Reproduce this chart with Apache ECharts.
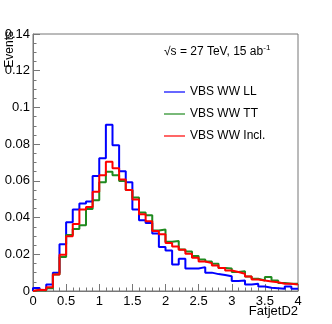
<!DOCTYPE html>
<html>
<head>
<meta charset="utf-8">
<script src="https://cdn.jsdelivr.net/npm/echarts@6/dist/echarts.min.js"></script>
<style>
  html, body { margin: 0; padding: 0; background: #fff; }
  #chart { width: 332px; height: 324px; }
</style>
</head>
<body>
<div id="chart"></div>
<script>
const binWidth = 0.1
const xMin = 0
const xMax = 4

const seriesNames = ['VBS WW LL', 'VBS WW TT', 'VBS WW Incl.']
const seriesColors = ['#0000ff', '#1f8a1f', '#ff0000']

const llValues = [
  0.0017, 0.0006, 0.0035, 0.0099, 0.0254, 0.0374, 0.0444, 0.0477, 0.0488, 0.0626,
  0.0723, 0.0905, 0.0794, 0.0653, 0.0592, 0.0444, 0.0385, 0.0371, 0.0313, 0.0240,
  0.0221, 0.0145, 0.0176, 0.0123, 0.0123, 0.0130, 0.0100, 0.0092, 0.0087, 0.0080,
  0.0054, 0.0057, 0.0035, 0.0039, 0.0025, 0.0018, 0.0015, 0.0012, 0.0025, 0.0012,
]
const ttValues = [
  0.0005, 0.0003, 0.0015, 0.0090, 0.0185, 0.0305, 0.0338, 0.0358, 0.0447, 0.0495,
  0.0593, 0.0650, 0.0630, 0.0599, 0.0550, 0.0510, 0.0427, 0.0413, 0.0330, 0.0335,
  0.0268, 0.0272, 0.0226, 0.0215, 0.0190, 0.0172, 0.0161, 0.0149, 0.0125, 0.0122,
  0.0103, 0.0108, 0.0079, 0.0067, 0.0057, 0.0076, 0.0057, 0.0043, 0.0039, 0.0039,
]
const inclValues = [
  0.0007, 0.0005, 0.0020, 0.0090, 0.0198, 0.0298, 0.0365, 0.0444, 0.0458, 0.0540,
  0.0631, 0.0704, 0.0668, 0.0608, 0.0550, 0.0499, 0.0418, 0.0380, 0.0327, 0.0309,
  0.0261, 0.0243, 0.0225, 0.0203, 0.0181, 0.0161, 0.0152, 0.0139, 0.0125, 0.0112,
  0.0103, 0.0094, 0.0079, 0.0063, 0.0057, 0.0052, 0.0048, 0.0040, 0.0039, 0.0036,
]

const FONT = 'Liberation Sans, Arial, sans-serif'

// bin contents -> step outline points at the bin edges
function toSteps(values) {
  const pts = [[xMin, 0]]
  values.forEach((v, i) => pts.push([+(xMin + i * binWidth).toFixed(2), v]))
  pts.push([xMax, values[values.length - 1]])
  return pts
}

function histSeries(name, values, color) {
  return {
    name,
    type: 'line',
    step: 'end',
    data: toSteps(values),
    showSymbol: false,
    symbol: 'none',
    silent: true,
    animation: false,
    lineStyle: { color, width: 2 },
    itemStyle: { color },
  }
}

const axisColor = '#777'

const chart = echarts.init(document.getElementById('chart'))
chart.setOption({
  backgroundColor: '#fff',
  animation: false,
  grid: {
    left: 33, right: 34, top: 34, bottom: 33,
    show: true, borderColor: axisColor, borderWidth: 1, backgroundColor: 'transparent',
  },
  xAxis: {
    type: 'value',
    min: xMin, max: xMax, interval: 0.5,
    axisLine: { lineStyle: { color: axisColor, width: 1 } },
    axisTick: { inside: true, length: 7, lineStyle: { color: axisColor } },
    minorTick: { show: true, splitNumber: 5, length: 3.5, lineStyle: { color: axisColor } },
    splitLine: { show: false },
    axisLabel: { color: '#000', fontFamily: FONT, fontSize: 13, margin: 4 },
  },
  yAxis: {
    type: 'value',
    min: 0, max: 0.14, interval: 0.02,
    axisLine: { show: true, lineStyle: { color: axisColor, width: 1 } },
    axisTick: { show: true, inside: true, length: 7, lineStyle: { color: axisColor } },
    minorTick: { show: true, splitNumber: 4, length: 3.5, lineStyle: { color: axisColor } },
    splitLine: { show: false },
    axisLabel: { color: '#000', fontFamily: FONT, fontSize: 13, margin: 3 },
  },
  legend: {
    orient: 'vertical',
    left: 164, top: 85, padding: 0,
    itemWidth: 21, itemHeight: 1.2, itemGap: 8,
    icon: 'rect',
    selectedMode: false,
    data: seriesNames,
    textStyle: { color: '#000', fontFamily: FONT, fontSize: 12, lineHeight: 14, padding: [0, 0, 0, 0] },
  },
  graphic: [
    {
      type: 'text', x: 10, y: 31, rotation: Math.PI / 2,
      style: { text: 'Events', font: '12px ' + FONT, fill: '#000', align: 'right', verticalAlign: 'middle' },
    },
    {
      type: 'text', x: 298, y: 311,
      style: { text: 'FatjetD2', font: '13px ' + FONT, fill: '#000', align: 'right', verticalAlign: 'middle' },
    },
    {
      type: 'text', x: 164, y: 51,
      style: {
        text: '{a|√s = 27 TeV, 15 ab}{b|-1}',
        verticalAlign: 'middle',
        rich: {
          a: { fontFamily: FONT, fontSize: 12, lineHeight: 14, fill: '#000', verticalAlign: 'bottom' },
          b: { fontFamily: FONT, fontSize: 8, lineHeight: 8, fill: '#000', verticalAlign: 'top', padding: [0, 0, 8, 0] },
        },
      },
    },
  ],
  series: [
    histSeries(seriesNames[0], llValues, seriesColors[0]),
    histSeries(seriesNames[1], ttValues, seriesColors[1]),
    histSeries(seriesNames[2], inclValues, seriesColors[2]),
  ],
})
</script>
</body>
</html>
